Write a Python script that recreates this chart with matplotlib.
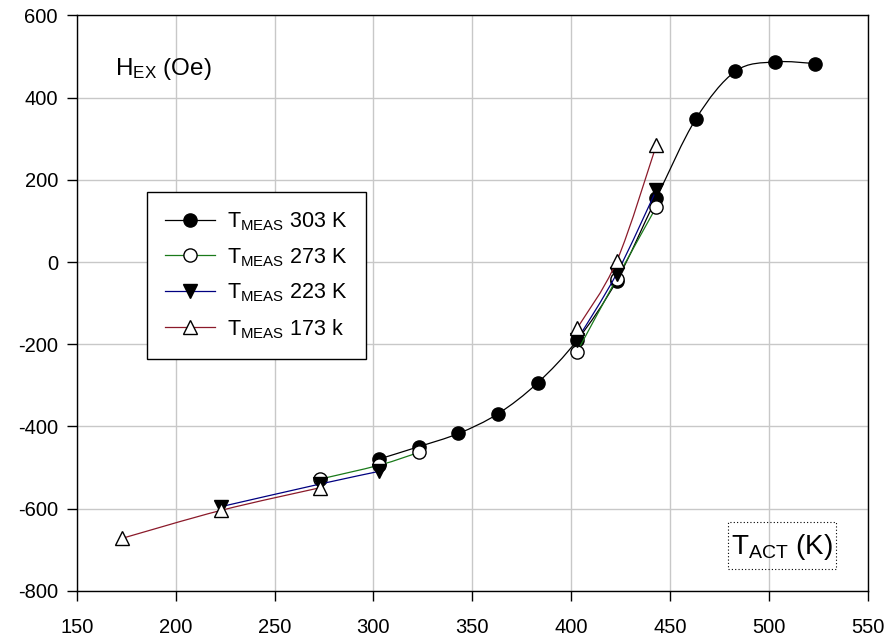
import numpy as np
import matplotlib
matplotlib.use("Agg")
import matplotlib.pyplot as plt
from matplotlib.path import Path
from matplotlib.patches import PathPatch, Rectangle
from matplotlib.lines import Line2D

plt.rcParams["font.family"] = ["Liberation Sans", "DejaVu Sans"]
plt.rcParams["mathtext.fontset"] = "custom"
plt.rcParams["mathtext.rm"] = "Liberation Sans"
plt.rcParams["mathtext.it"] = "Liberation Sans"
plt.rcParams["axes.unicode_minus"] = False

nan = np.nan

# Activation temperature (K) and exchange bias field (Oe)
t_act_303 = [303, 323, 343, 363, 383, 403, 423, 443, 463, 483, 503, 523]
h_ex_303 = [-479, -449, -417, -369, -294, -190, -45, 155, 348, 464, 487, 483]

t_act = [173, 223, 273, 303, 323, 343, 363, 383, 403, 423, 443]
h_ex_273 = [nan, nan, -528, -494, -463, nan, nan, nan, -218, -40, 134]
h_ex_223 = [nan, -595, -540, -509, nan, nan, nan, nan, -189, -28, 175]
h_ex_173 = [-672, -604, -549, nan, nan, nan, nan, nan, -161, 2, 284]

labels = [r"T$_{\rm MEAS}$ 303 K", r"T$_{\rm MEAS}$ 273 K",
          r"T$_{\rm MEAS}$ 223 K", r"T$_{\rm MEAS}$ 173 k"]
line_colors = ["black", "#1a7a1a", "#000080", "#8b1a2a"]
markers = ["o", "o", "v", "^"]
face_colors = ["black", "white", "black", "white"]

x_ticks = [150, 200, 250, 300, 350, 400, 450, 500, 550]
y_ticks = [-800, -600, -400, -200, 0, 200, 400, 600]


def smooth_path(xs, ys):
    """Catmull-Rom curve through consecutive points, as cubic Bezier segments."""
    pts = np.column_stack([xs, ys]).astype(float)
    verts = [tuple(pts[0])]
    codes = [Path.MOVETO]
    n = len(pts)
    for i in range(n - 1):
        p0 = pts[i - 1] if i > 0 else pts[i]
        p1 = pts[i]
        p2 = pts[i + 1]
        p3 = pts[i + 2] if i + 2 < n else pts[i + 1]
        c1 = p1 + (p2 - p0) / 6.0
        c2 = p2 - (p3 - p1) / 6.0
        verts += [tuple(c1), tuple(c2), tuple(p2)]
        codes += [Path.CURVE4] * 3
    return Path(verts, codes)


def runs(xs, ys):
    xs = np.asarray(xs, float)
    ys = np.asarray(ys, float)
    out, cur = [], []
    for x, y in zip(xs, ys):
        if not np.isnan(y):
            cur.append((x, y))
        elif cur:
            out.append(cur)
            cur = []
    if cur:
        out.append(cur)
    return out


W, H = 892, 643
fig = plt.figure(figsize=(W / 100, H / 100), dpi=100)
ax = fig.add_axes([0.086, 0.081, 0.887, 0.895])

series = [(t_act_303, h_ex_303), (t_act, h_ex_273), (t_act, h_ex_223), (t_act, h_ex_173)]
handles = []
for k, (xs, ys) in enumerate(series):
    for seg in runs(xs, ys):
        sx, sy = zip(*seg)
        if len(seg) > 1:
            ax.add_patch(PathPatch(smooth_path(sx, sy), facecolor="none",
                                   edgecolor=line_colors[k], lw=0.9, zorder=2 + k))
    ax.plot(xs, ys, linestyle="none", marker=markers[k], markersize=9.5,
            markerfacecolor=face_colors[k], markeredgecolor="black",
            markeredgewidth=1.0, zorder=2.5 + k)
    handles.append(Line2D([], [], color=line_colors[k], lw=0.9, marker=markers[k],
                          markersize=9.5, markerfacecolor=face_colors[k],
                          markeredgecolor="black", markeredgewidth=1.0))

ax.set_xlim(150, 550)
ax.set_ylim(-800, 600)
ax.set_xticks(x_ticks)
ax.set_yticks(y_ticks)
ax.grid(True, color="#c8c8c8", lw=1.0, zorder=0)
ax.set_axisbelow(True)
ax.tick_params(axis="both", direction="out", length=7.5, width=1.0,
               labelsize=14.5, colors="black", top=False, right=False)
ax.tick_params(axis="x", pad=12)
ax.tick_params(axis="y", pad=6)
for sp in ax.spines.values():
    sp.set_linewidth(1.0)
    sp.set_color("black")

ax.text(0.048, 0.897, r"H$_{\rm EX}$ (Oe)", transform=ax.transAxes,
        fontsize=17.5, ha="left", va="baseline")

t_lbl = ax.text(0.956, 0.064, r"T$_{\rm ACT}$ (K)", transform=ax.transAxes,
                fontsize=20, ha="right", va="baseline")

leg = ax.legend(handles, labels, loc="upper left", bbox_to_anchor=(0.0885, 0.693),
                borderaxespad=0, fontsize=15.5, frameon=True, fancybox=False,
                edgecolor="black", framealpha=1, handlelength=2.3,
                handletextpad=0.6, labelspacing=0.6, borderpad=0.85)
leg.get_frame().set_linewidth(1.0)

# dotted frame around the x-axis title
fig.canvas.draw()
bb = t_lbl.get_window_extent()
x0, x1 = bb.x0 - 3, bb.x1 + 3
y0, y1 = H - 569, H - 522
fig.add_artist(Rectangle((x0 / W, y0 / H), (x1 - x0) / W, (y1 - y0) / H,
                         transform=fig.transFigure, facecolor="none",
                         edgecolor="black", linestyle=(0, (1, 2)), lw=0.8,
                         zorder=10))

fig.savefig("out.png", dpi=100)
